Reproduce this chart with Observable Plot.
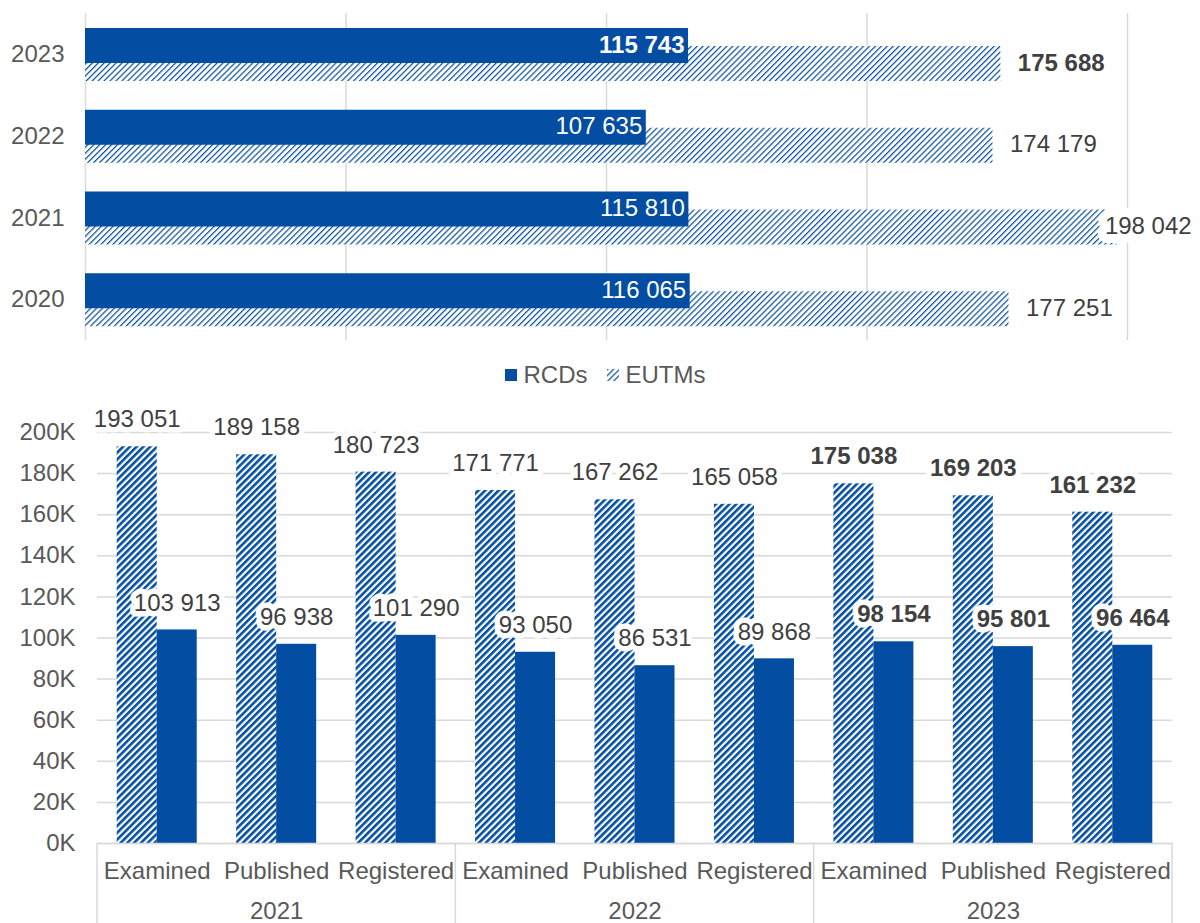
<!DOCTYPE html>
<html>
<head>
<meta charset="utf-8">
<script src="https://cdn.jsdelivr.net/npm/d3@7"></script>
<script src="https://cdn.jsdelivr.net/npm/@observablehq/plot@0.6"></script>
<style>
  html, body { margin: 0; padding: 0; background: #fff; }
  body { width: 1200px; height: 923px; overflow: hidden; font-family: "Liberation Sans", Arial, sans-serif; }
  #legend { height: 60px; display: flex; justify-content: center; align-items: center; font-size: 24px; color: #595959; padding-left: 10px; box-sizing: border-box; }
  #legend .item { display: flex; align-items: center; }
  #legend .sw { width: 12px; height: 12px; margin-right: 7px; display: block; }
  #legend .item + .item { margin-left: 19px; }
  svg.defs { position: absolute; width: 0; height: 0; }
</style>
</head>
<body>
<svg class="defs" aria-hidden="true">
  <defs>
    <pattern id="hatchFine" patternUnits="userSpaceOnUse" width="4.2" height="4.2" patternTransform="rotate(45)">
      <rect width="4.2" height="4.2" fill="#ffffff"></rect>
      <rect width="1.2" height="4.2" fill="#034ea2"></rect>
    </pattern>
    <pattern id="hatchWide" patternUnits="userSpaceOnUse" width="4.8" height="4.8" patternTransform="rotate(45)">
      <rect width="4.8" height="4.8" fill="#ffffff"></rect>
      <rect width="2.6" height="4.8" fill="#034ea2"></rect>
    </pattern>
  </defs>
</svg>
<div id="top"></div>
<div id="legend"></div>
<div id="bottom"></div>
<script>
// ---------- data ----------
const years = ["2020", "2021", "2022", "2023"];
const rcdTotals = [116065, 115810, 107635, 115743];
const eutmTotals = [177251, 198042, 174179, 175688];

const stageYears = ["2021", "2022", "2023"];
const stages = ["Examined", "Published", "Registered"];
const eutmByStage = [
  [193051, 189158, 180723],
  [171771, 167262, 165058],
  [175038, 169203, 161232]
];
const rcdByStage = [
  [103913, 96938, 101290],
  [93050, 86531, 89868],
  [98154, 95801, 96464]
];

const seriesNames = ["RCDs", "EUTMs"];
const topGridTicks = [0, 50000, 100000, 150000, 200000];
const bottomYTicks = [0, 20000, 40000, 60000, 80000, 100000, 120000, 140000, 160000, 180000, 200000];
const boldYear = "2023";

// ---------- styling ----------
const BLUE = "#034ea2";
const FONT = "'Liberation Sans', Arial, sans-serif";
const GRID = "#d9d9d9";
const LABEL = "#404040";
const fmt = d3.formatLocale({decimal: ".", thousands: " ", grouping: [3], currency: ["", ""]}).format(",d");

// ---------- top chart ----------
const topData = years.map((year, i) => ({year, rcd: rcdTotals[i], eutm: eutmTotals[i]}));
const isBold = d => d.year === boldYear;
const notBold = d => d.year !== boldYear;

const eutmTopOpts = {y: "year", x: d => Math.min(d.eutm, 192400), text: d => fmt(d.eutm), textAnchor: "start", dx: 17, dy: 8.6, fill: LABEL, stroke: "white", strokeWidth: 18, strokeLinejoin: "round", paintOrder: "stroke", fontSize: 24};
const rcdTopOpts = {y: "year", x: "rcd", text: d => fmt(d.rcd), textAnchor: "end", dx: -4, dy: -9.4, fill: "white", fontSize: 24};

const topChart = Plot.plot({
  width: 1200, height: 345,
  marginTop: 13, marginBottom: 5, marginLeft: 85, marginRight: 73,
  style: {fontFamily: FONT, fontSize: "24px", color: "#595959", background: "white", overflow: "visible"},
  x: {domain: [0, 200000], axis: null},
  y: {domain: [...years].reverse(), padding: 0, round: false, axis: null, label: null},
  marks: [
    Plot.gridX(topGridTicks, {stroke: GRID, strokeOpacity: 1, strokeWidth: 1.5}),
    Plot.axisY({tickSize: 0, tickPadding: 21, label: null, fontSize: 24}),
    Plot.barX(topData, {y: "year", x: "eutm", fill: "url(#hatchFine)", insetTop: 33, insetBottom: 13.75}),
    Plot.barX(topData, {y: "year", x: "rcd", fill: BLUE, insetTop: 15, insetBottom: 31.75}),
    Plot.text(topData.filter(notBold), rcdTopOpts),
    Plot.text(topData.filter(isBold), {...rcdTopOpts, fontWeight: "bold"}),
    Plot.text(topData.filter(notBold), eutmTopOpts),
    Plot.text(topData.filter(isBold), {...eutmTopOpts, fontWeight: "bold"})
  ]
});
document.getElementById("top").appendChild(topChart);

// ---------- legend ----------
const legend = document.getElementById("legend");
const legendFills = [BLUE, "url(#hatchFine)"];
seriesNames.forEach((name, i) => {
  const item = document.createElement("div");
  item.className = "item";
  item.innerHTML = `<svg class="sw" viewBox="0 0 12 12"><rect width="12" height="12" fill="${legendFills[i]}"></rect></svg><span>${name}</span>`;
  legend.appendChild(item);
});

// ---------- bottom chart ----------
const bottomData = [];
stageYears.forEach((year, i) => stages.forEach((stage, j) => {
  bottomData.push({year, stage, eutm: eutmByStage[i][j], rcd: rcdByStage[i][j]});
}));

const labelOpts = {fx: "year", x: "stage", fill: LABEL, stroke: "white", strokeWidth: 11, strokeLinejoin: "round", paintOrder: "stroke", fontSize: 24, dy: -27};

const bottomChart = Plot.plot({
  width: 1200, height: 518,
  marginTop: 27, marginBottom: 80, marginLeft: 97, marginRight: 28,
  style: {fontFamily: FONT, fontSize: "24px", color: "#595959", background: "white", overflow: "visible"},
  fx: {domain: stageYears, padding: 0, round: false, label: null, axis: null},
  x: {domain: stages, paddingInner: 0.33, paddingOuter: 0.165, round: false, label: null, axis: null},
  y: {domain: [0, 200000], label: null, axis: null},
  marks: [
    Plot.gridY(bottomYTicks, {stroke: GRID, strokeOpacity: 1, strokeWidth: 1.5}),
    Plot.axisY(bottomYTicks, {tickSize: 0, tickPadding: 22, tickFormat: d => (d / 1000) + "K", label: null, fontSize: 24}),
    Plot.barY(bottomData, {fx: "year", x: "stage", y: "eutm", fill: "url(#hatchWide)", insetRight: 40}),
    Plot.barY(bottomData, {fx: "year", x: "stage", y: "rcd", fill: BLUE, insetLeft: 40}),
    Plot.ruleY([0], {stroke: GRID, strokeWidth: 1.5}),
    Plot.text(bottomData.filter(notBold), {...labelOpts, y: "eutm", text: d => fmt(d.eutm), dx: -20}),
    Plot.text(bottomData.filter(isBold), {...labelOpts, y: "eutm", text: d => fmt(d.eutm), dx: -20, fontWeight: "bold"}),
    Plot.text(bottomData.filter(notBold), {...labelOpts, y: "rcd", text: d => fmt(d.rcd), dx: 20}),
    Plot.text(bottomData.filter(isBold), {...labelOpts, y: "rcd", text: d => fmt(d.rcd), dx: 20, fontWeight: "bold"}),
    Plot.axisX({tickSize: 0, tickPadding: 18, label: null, fontSize: 24}),
    Plot.axisFx({anchor: "bottom", tickSize: 0, tickPadding: 58, label: null, fontSize: 24})
  ]
});
document.getElementById("bottom").appendChild(bottomChart);

// group separators on the category axis, placed from the fx scale
const fxDesc = bottomChart.scale("fx");
const yDesc = bottomChart.scale("y");
const [r0, r1] = fxDesc.range;
const n = fxDesc.domain.length;
const yBase = yDesc.range[0];
const svgB = d3.select(bottomChart);
for (let i = 0; i <= n; i++) {
  const x = r0 + (r1 - r0) * i / n;
  svgB.append("line")
    .attr("x1", x).attr("x2", x)
    .attr("y1", yBase).attr("y2", 518)
    .attr("stroke", GRID).attr("stroke-width", 1.5);
}
</script>
</body>
</html>
